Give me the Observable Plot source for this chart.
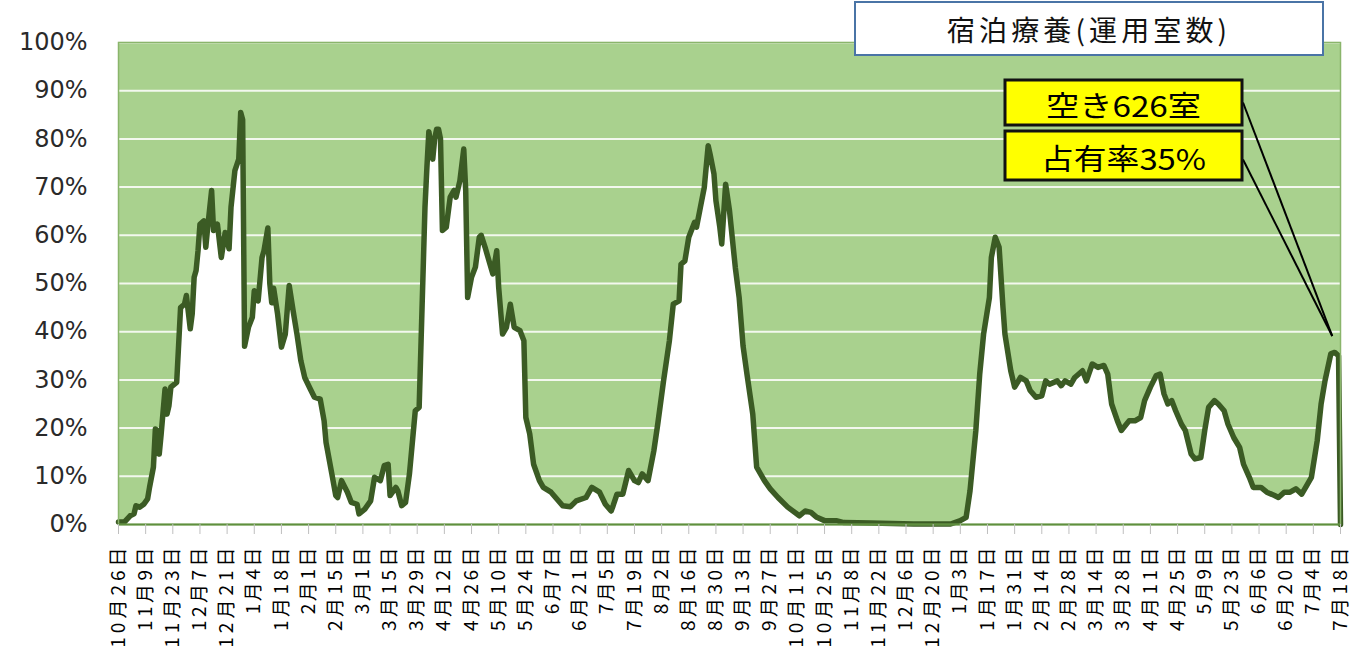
<!DOCTYPE html>
<html><head><meta charset="utf-8">
<script src="https://cdn.jsdelivr.net/npm/d3@7"></script>
<script src="https://cdn.jsdelivr.net/npm/@observablehq/plot@0.6"></script>
<style>body{margin:0;background:#fff;} #chart{position:relative;width:1365px;height:665px;}</style>
</head><body><div id="chart"></div>
<script>
const startDate = "2020-10-26";
const dayOffsets = [0,3,6,8,9,11,13,15,16,18,19,20,21,22,24,25,26,27,30,32,34,35,37,38,39,40,41,42,44,45,46,48,49,51,53,55,57,58,60,62,63,64,65,67,69,70,72,74,75,77,78,79,80,82,84,86,88,90,92,94,96,99,101,104,106,107,110,112,113,115,118,120,123,124,127,130,132,135,137,139,140,143,144,146,148,150,153,155,156,158,159,160,161,162,163,164,165,166,167,169,171,173,174,176,178,179,180,182,184,186,187,189,191,193,195,196,198,200,202,204,207,209,210,212,214,217,219,223,226,229,233,236,241,244,248,251,254,255,257,260,263,266,268,270,273,276,278,281,284,286,289,290,292,294,297,298,300,302,304,305,307,308,310,311,313,315,318,320,322,324,327,329,333,336,340,345,351,354,357,360,364,370,374,388,410,429,434,437,439,442,444,446,449,450,452,454,456,457,460,462,465,468,470,473,476,478,480,484,486,488,491,493,497,499,502,505,508,510,512,515,517,521,524,527,529,532,535,537,539,541,543,545,548,550,553,555,558,560,562,565,567,570,572,575,578,580,583,585,589,592,596,598,601,604,607,610,613,615,618,620,622,625,627,629,630];
const occupancyPct = [0.5,0.5,1.8,2.2,3.9,3.6,4.2,5.3,7.7,11.9,19.8,19.5,14.6,18.8,28.1,22.9,24.6,28.5,29.5,45,45.7,47.5,40.6,43.7,51.3,52.7,56.8,62.3,63,57.5,61.7,69.3,61,62.3,55.4,60.6,57.2,65.8,73.4,75.8,85.5,84,37,40.9,43,48.5,46.4,55.4,56.8,61.5,50,46,49,43.7,36.8,39.5,49.6,44.4,39.5,34,30.5,28,26.4,26,21.5,17,10.5,6,5.6,9.1,6.7,4.6,4.2,2.2,3.2,4.9,9.8,9.1,12.2,12.5,6,7.7,7,3.9,4.6,10.5,23.6,24.3,38.1,65.8,74.1,81.5,79,75.8,80,82,82,80,61,61.7,67.9,69.3,67.9,71.3,77.9,69.3,47.1,51.3,53.4,59.6,60,57.5,54.7,52,56.8,49.2,39.5,40.9,45.7,40.9,40.2,38.1,22.2,18.8,12.5,9.1,7.7,6.7,5.3,3.9,3.7,4.9,5.6,7.7,6.7,4.2,2.8,3.9,6.3,6.3,11.2,9.1,8.7,10.5,9.1,15.3,20.8,29.8,38.1,45.7,46.4,54,54.7,59.6,62.7,61.7,65.8,69.9,78.6,76.8,72.7,67.2,61.7,58.2,70.6,65.1,53.3,47,37,31.2,22.9,11.9,9.1,7.4,5.6,3.6,1.8,2.8,2.5,1.5,0.8,0.8,0.4,0.3,0.1,0.1,0.8,1.5,7,19.5,31.2,39.5,47.1,55.4,59.6,57.5,45,39.5,31.9,28.5,30.5,29.8,27.8,26.4,26.7,29.8,29.1,29.8,28.8,29.8,29.1,30.5,31.9,29.8,33.3,32.6,33,31.2,25,21.5,19.5,21.5,21.5,22.2,25.7,28.5,30.9,31.2,27.1,25,25.7,23.6,20.8,19.5,14.6,13.6,13.9,19.5,24.3,25.7,25,23.6,20.8,18,16,12.5,9.8,7.7,7.7,6.7,6,5.6,6.7,6.7,7.4,6.3,8.4,9.8,17.4,25,29.8,35.4,35.7,35,0];
const tickLabels = ["10月26日","11月9日","11月23日","12月7日","12月21日","1月4日","1月18日","2月1日","2月15日","3月1日","3月15日","3月29日","4月12日","4月26日","5月10日","5月24日","6月7日","6月21日","7月5日","7月19日","8月2日","8月16日","8月30日","9月13日","9月27日","10月11日","10月25日","11月8日","11月22日","12月6日","12月20日","1月3日","1月17日","1月31日","2月14日","2月28日","3月14日","3月28日","4月11日","4月25日","5月9日","5月23日","6月6日","6月20日","7月4日","7月18日"];
const yTicks = [0,10,20,30,40,50,60,70,80,90,100];
const chartTitle = "宿泊療養(運用室数)";
const annotationLabels = ["空き626室", "占有率35%"];
const pointerDay = 626, pointerPct = 39;

const DAY = 864e5;
const t0 = Date.parse(startDate + "T00:00:00Z");
const toDate = d => new Date(t0 + d * DAY);
const data = dayOffsets.map((d, i) => ({date: toDate(d), pct: occupancyPct[i]}));
const tickDates = tickLabels.map((_, i) => toDate(i * 14));
const fmt = d => tickLabels[Math.round((+d - t0) / (14 * DAY))];

const chart = Plot.plot({
  width: 1365, height: 665,
  marginLeft: 118, marginRight: 25, marginTop: 42, marginBottom: 141,
  style: {fontFamily: "'DejaVu Sans','Noto Sans CJK JP',sans-serif", background: "#fff", overflow: "visible"},
  x: {type: "utc", domain: [toDate(0), toDate(630)]},
  y: {domain: [0, 100]},
  marks: [
    Plot.frame({fill: "#a9d18e"}),
    Plot.gridY(yTicks, {stroke: "#f3f8ee", strokeOpacity: 1, strokeWidth: 2}),
    Plot.areaY(data, {x: "date", y: "pct", fill: "#ffffff"}),
    Plot.line(data, {x: "date", y: "pct", stroke: "#3b5b24", strokeWidth: 5.5, strokeLinejoin: "round"}),
    Plot.frame({stroke: "#8ab56b", strokeWidth: 1.5}),
    Plot.ruleY([0], {stroke: "#5f8f3e", strokeWidth: 2}),
    Plot.axisY({ticks: yTicks, tickFormat: d => d + "%", tickSize: 0, tickPadding: 31, fontSize: 24, fill: "#2a2a2a", label: null}),
    Plot.axisX({ticks: tickDates, tickFormat: fmt, tickRotate: -90, tickSize: 10, tickPadding: 13, fontSize: 19,
      fontFamily: "'Noto Sans CJK JP',sans-serif", stroke: "#bfbfbf", fill: "#000", label: null})
  ]
});
document.getElementById("chart").appendChild(chart);

// stretch x tick labels to the reference's per-character pitch
d3.select(chart).selectAll('g[aria-label="x-axis tick label"] text').each(function() {
  const n = [...this.textContent].length;
  this.setAttribute("textLength", n * 16.7);
  this.setAttribute("lengthAdjust", "spacing");
});

// annotations
const sx = chart.scale("x"), sy = chart.scale("y");
const tx = sx.apply(toDate(pointerDay)), ty = sy.apply(pointerPct);
const svg = d3.select(chart);
const g = svg.append("g");
const boxes = [{x: 1005, y: 80, w: 237, h: 45, tl: 155}, {x: 1005, y: 131, w: 237, h: 49, tl: 165}];
boxes.forEach((b, i) => {
  g.append("line").attr("x1", b.x + b.w + 1).attr("y1", b.y + b.h / 2 + (i === 0 ? 0 : 4))
    .attr("x2", tx).attr("y2", ty).attr("stroke", "#000").attr("stroke-width", 2);
});
boxes.forEach((b, i) => {
  g.append("rect").attr("x", b.x).attr("y", b.y).attr("width", b.w).attr("height", b.h)
    .attr("fill", "#ffff00").attr("stroke", "#111").attr("stroke-width", 3);
  g.append("text").attr("x", b.x + b.w / 2).attr("y", b.y + b.h / 2 + 1)
    .attr("text-anchor", "middle").attr("dominant-baseline", "central")
    .attr("font-family", "'Noto Sans CJK JP',sans-serif").attr("font-size", 29).attr("fill", "#000")
    .attr("textLength", b.tl).attr("lengthAdjust", "spacingAndGlyphs")
    .text(annotationLabels[i]);
});
g.append("rect").attr("x", 855).attr("y", 2).attr("width", 468).attr("height", 53)
  .attr("fill", "#fff").attr("stroke", "#4a74a6").attr("stroke-width", 2);
g.append("text").attr("x", 1087).attr("y", 29).attr("text-anchor", "middle").attr("dominant-baseline", "central")
  .attr("font-family", "'Noto Sans CJK JP',sans-serif").attr("font-size", 28).attr("fill", "#111")
  .attr("textLength", 280).attr("lengthAdjust", "spacing")
  .text(chartTitle);
</script>
</body></html>
